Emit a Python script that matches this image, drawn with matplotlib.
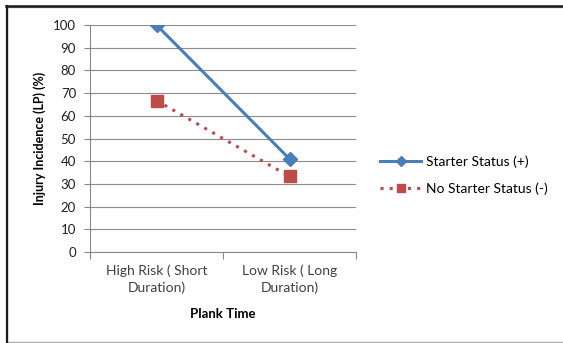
import matplotlib.pyplot as plt
from matplotlib.patches import Rectangle

plt.rcParams['font.family'] = ['Lato', 'DejaVu Sans']

# Daten
kategorien = ["High Risk ( Short\nDuration)", "Low Risk ( Long\nDuration)"]
starter = [100, 41]
kein_starter = [66.7, 33.3]
y_ticks = [0, 10, 20, 30, 40, 50, 60, 70, 80, 90, 100]

W, H = 563, 343
fig = plt.figure(figsize=(W / 100, H / 100), dpi=100)
ax = fig.add_axes([90 / W, 1 - 252 / H, (356 - 90) / W, (252 - 25) / H])

# Rahmen um das ganze Diagramm
fig.patches.append(Rectangle((7 / W, 1 / H), 1.2, 335 / H, transform=fig.transFigure,
                             fill=False, edgecolor='#b0b0b0', linewidth=1.0))
fig.add_artist(plt.Line2D([6 / W, 1], [1 - 6 / H, 1 - 6 / H], transform=fig.transFigure,
                          color='#1a1a1a', linewidth=1.8))
fig.add_artist(plt.Line2D([6.5 / W, 6.5 / W], [1 / H, 1 - 6 / H], transform=fig.transFigure,
                          color='#1a1a1a', linewidth=1.6))

x = range(len(kategorien))
ax.plot(x, starter, color='#4A7EBB', linewidth=2.2, marker='D', markersize=6.8,
        label='Starter Status (+)', zorder=3)
ax.plot(x, kein_starter, color='#BE4B48', linewidth=2.2, linestyle=(0, (1, 2)),
        marker='s', markersize=8.5, label='No Starter Status (-)', zorder=3)

ax.set_xlim(-0.5, 1.5)
ax.set_ylim(0, 100)
ax.set_yticks(y_ticks)
ax.set_xticks([-0.5, 0.5, 1.5])
ax.set_xticklabels([])
ax.set_xticks(list(x), minor=True)
ax.set_xticklabels(kategorien, minor=True, fontsize=10, color='#404040', linespacing=1.4)
ax.tick_params(axis='x', which='minor', length=0, pad=9)
ax.tick_params(axis='x', which='major', length=5, color='#888888')
ax.tick_params(axis='y', length=4, color='#888888', labelsize=9.5, labelcolor='#202020', pad=6)

ax.yaxis.grid(True, color='#8c8c8c', linewidth=0.8)
ax.set_axisbelow(True)
for s in ['top', 'right']:
    ax.spines[s].set_visible(False)
ax.spines['left'].set_color('#888888')
ax.spines['bottom'].set_color('#888888')

ax.set_ylabel('Injury Incidence (LP) (%)', fontsize=9, fontweight='bold', labelpad=5)
ax.set_xlabel('Plank Time', fontsize=9.5, fontweight='bold', labelpad=10)

ax.legend(loc='center left', bbox_to_anchor=(1.042, 0.34), frameon=False, fontsize=10,
          handlelength=3.0, labelspacing=1.05, handletextpad=0.3, markerscale=0.75)

plt.savefig('out.png', dpi=100)
